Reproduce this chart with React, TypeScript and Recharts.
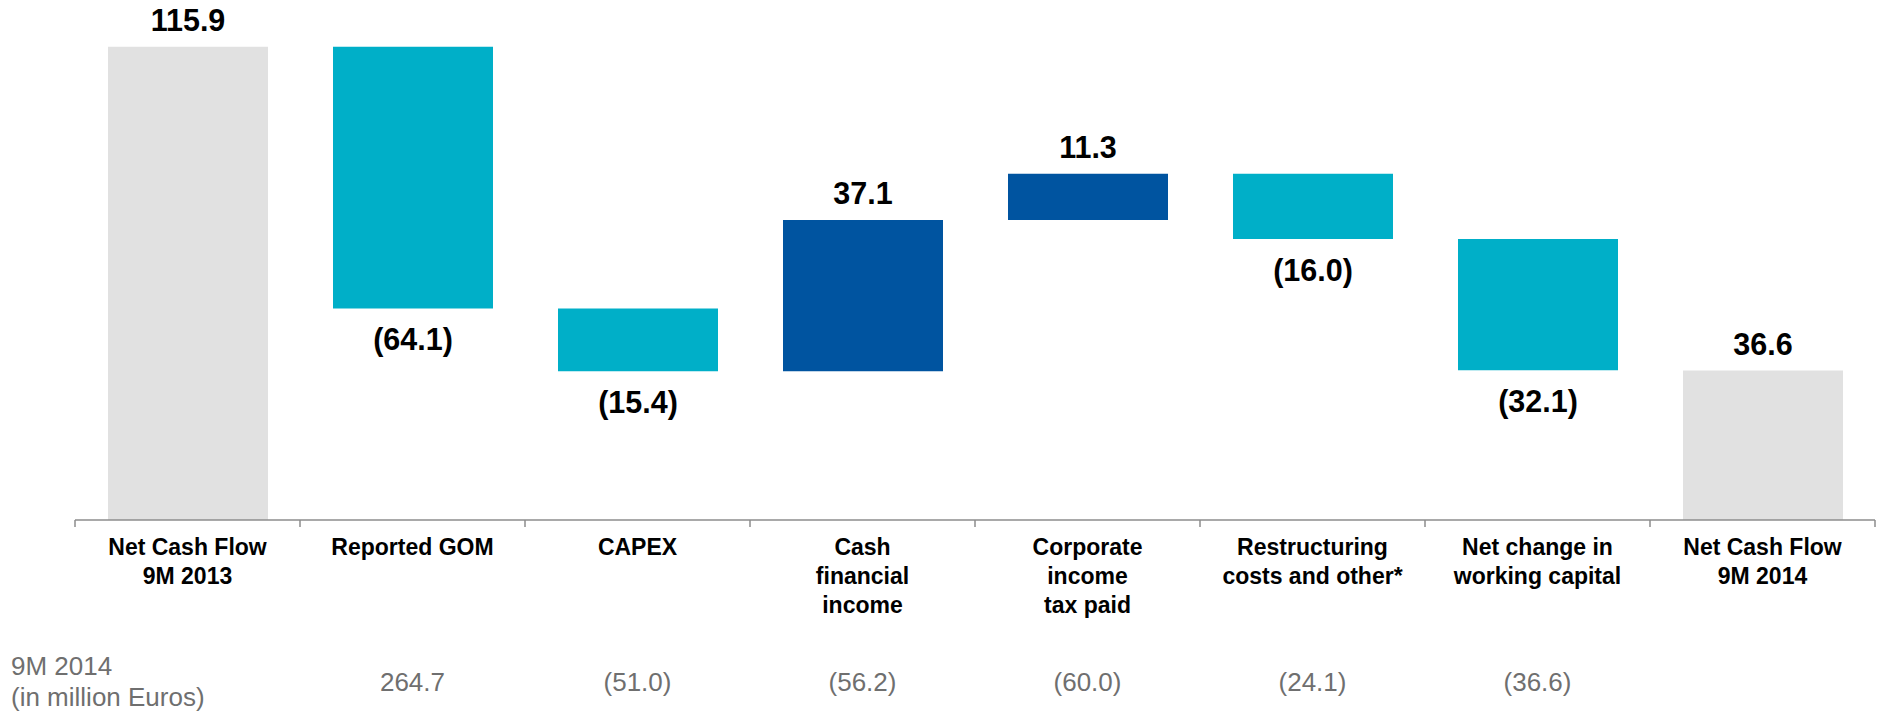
import { BarChart, Bar, XAxis, YAxis, Cell, LabelList } from "recharts";

const categories = [
  ["Net Cash Flow", "9M 2013"],
  ["Reported GOM"],
  ["CAPEX"],
  ["Cash", "financial", "income"],
  ["Corporate", "income", "tax paid"],
  ["Restructuring", "costs and other*"],
  ["Net change in", "working capital"],
  ["Net Cash Flow", "9M 2014"],
];
const changes = [115.9, -64.1, -15.4, 37.1, 11.3, -16.0, -32.1, 36.6];
const isTotal = [true, false, false, false, false, false, false, true];
const labels = ["115.9", "(64.1)", "(15.4)", "37.1", "11.3", "(16.0)", "(32.1)", "36.6"];
const fy2014 = ["", "264.7", "(51.0)", "(56.2)", "(60.0)", "(24.1)", "(36.6)", ""];

const GREY = "#e1e1e1";
const CYAN = "#00afc8";
const NAVY = "#0054a0";
const FONT = "'Liberation Sans', Arial, sans-serif";

// running totals -> [low, high] ranges for each bar
let running = 0;
const data = categories.map((lines, i) => {
  const v = changes[i];
  let range: [number, number];
  if (isTotal[i]) {
    range = [0, v];
    running = v;
  } else {
    const next = running + v;
    range = [Math.min(running, next), Math.max(running, next)];
    running = next;
  }
  return {
    name: lines.join(" "),
    lines,
    range,
    color: isTotal[i] ? GREY : v < 0 ? CYAN : NAVY,
    label: labels[i],
    negative: v < 0,
    row: fy2014[i],
  };
});

const BAND = 225;

const CategoryTick = (props: any) => {
  const { x, y, payload } = props;
  const d = data[payload.index];
  const axisY = y - 8;
  return (
    <g>
      <line x1={x - BAND / 2} x2={x - BAND / 2} y1={axisY} y2={axisY + 7} stroke="#8c8c8c" strokeWidth={1.5} />
      {payload.index === data.length - 1 && (
        <line x1={x + BAND / 2} x2={x + BAND / 2} y1={axisY} y2={axisY + 7} stroke="#8c8c8c" strokeWidth={1.5} />
      )}
      <text x={x} y={axisY + 35} textAnchor="middle" fontFamily={FONT} fontWeight="bold" fontSize={23} fill="#000">
        {d.lines.map((l: string, k: number) => (
          <tspan key={k} x={x} dy={k === 0 ? 0 : 29}>
            {l}
          </tspan>
        ))}
      </text>
      {d.row && (
        <text x={x} y={axisY + 171} textAnchor="middle" fontFamily={FONT} fontSize={26} fill="#6f6f6f">
          {d.row}
        </text>
      )}
    </g>
  );
};

const ValueLabel = (props: any) => {
  const { x, y, width, height, index } = props;
  const d = data[index];
  const cx = x + width / 2;
  const top = Math.min(y, y + height);
  const bottom = Math.max(y, y + height);
  const ty = d.negative ? bottom + 42 : top - 16;
  return (
    <text x={cx} y={ty} textAnchor="middle" fontFamily={FONT} fontWeight="bold" fontSize={30.5} fill="#000">
      {d.label}
    </text>
  );
};

export default function App() {
  return (
    <div style={{ position: "relative", width: 1881, height: 711, marginTop: -8 }}>
      <BarChart
        width={1881}
        height={711}
        data={data}
        margin={{ top: 30, right: 14, left: 67, bottom: 0 }}
        barSize={160}
      >
        <XAxis
          dataKey="name"
          height={191}
          interval={0}
          tickLine={false}
          axisLine={{ stroke: "#8c8c8c", strokeWidth: 1.5 }}
          tick={<CategoryTick />}
        />
        <YAxis hide domain={[0, 120]} />
        <Bar dataKey="range" isAnimationActive={false}>
          {data.map((d, i) => (
            <Cell key={i} fill={d.color} />
          ))}
          <LabelList dataKey="label" content={<ValueLabel />} />
        </Bar>
      </BarChart>
      <div
        style={{
          position: "absolute",
          left: 3,
          top: 651,
          fontFamily: FONT,
          fontSize: 26,
          lineHeight: "31px",
          color: "#6f6f6f",
          whiteSpace: "nowrap",
        }}
      >
        9M 2014
        <br />
        (in million Euros)
      </div>
    </div>
  );
}
